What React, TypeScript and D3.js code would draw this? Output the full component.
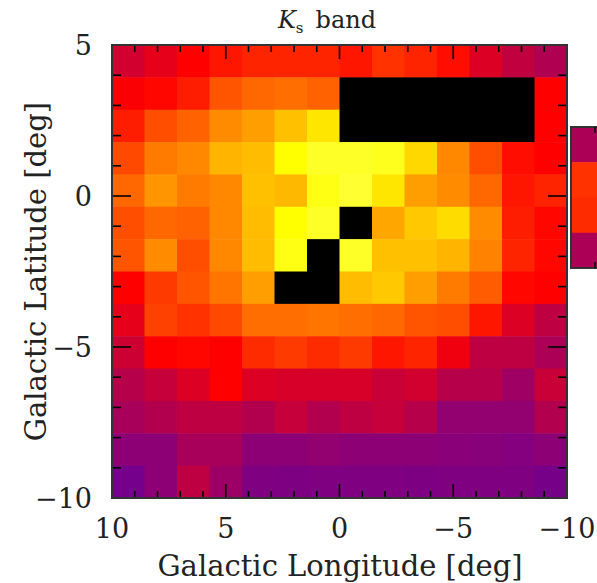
import React from "react";
import * as d3 from "d3";

// Galactic grid: 14 x 14 cells, longitude +10 → −10, latitude +5 → −10
const lonEdges = [10, -10];
const latEdges = [5, -10];
const nCols = 14;
const nRows = 14;

// Relative Ks-band intensity per cell (row 0 = top, col 0 = l = +10); null = masked
const row0 = [36, 40, 45, 48, 50, 50, 50, 48, 52, 50, 47, 38, 32, 27];
const row1 = [44, 46, 49, 57, 60, 61, 59, null, null, null, null, null, null, 45];
const row2 = [49, 56, 59, 66, 70, 78, 87, null, null, null, null, null, null, 45];
const row3 = [55, 63, 65, 75, 77, 92, 96, 96, 95, 84, 65, 56, 47, 45];
const row4 = [60, 68, 63, 65, 78, 76, 94, 97, 87, 70, 66, 60, 48, 50];
const row5 = [56, 60, 59, 65, 77, 92, 96, null, 72, 80, 85, 66, 49, 46];
const row6 = [57, 66, 56, 65, 77, 94, null, 96, 78, 78, 75, 64, 50, 46];
const row7 = [45, 53, 57, 62, 70, null, null, 77, 80, 70, 63, 58, 46, 45];
const row8 = [40, 54, 52, 55, 61, 61, 62, 61, 60, 57, 56, 48, 38, 31];
const row9 = [35, 45, 46, 45, 51, 53, 51, 53, 48, 50, 42, 31, 31, 26];
const row10 = [29, 33, 38, 45, 38, 37, 37, 37, 34, 36, 29, 29, 22, 34];
const row11 = [25, 28, 31, 31, 28, 33, 28, 31, 33, 29, 18, 18, 18, 28];
const row12 = [16, 16, 25, 25, 16, 16, 18, 16, 16, 16, 15, 14, 12, 16];
const row13 = [5, 16, 31, 21, 10, 9, 10, 10, 10, 9, 10, 10, 10, 6];
const grid = [row0, row1, row2, row3, row4, row5, row6, row7, row8, row9, row10, row11, row12, row13];

// Colour bar segments (top → bottom)
const barValues = [26, 52, 51, 26];

// Colour table stops
const stopValues = [0, 15, 25, 35, 45, 55, 65, 75, 85, 92, 100];
const stopColors = ["#6a0094", "#8a0078", "#a8005a", "#cc0033", "#ff0000", "#ff4800", "#ff8800", "#ffb400", "#ffdc00", "#ffff00", "#ffff50"];

const xTicks = [10, 5, 0, -5, -10];
const yTicks = [5, 0, -5, -10];

const W = 597;
const H = 583;
const M = { left: 112, right: 567, top: 45, bottom: 498 };

const fmt = (v: number) => (v < 0 ? "\u2212" + Math.abs(v) : String(v));

export default function App() {
  const x = d3.scaleLinear().domain(lonEdges).range([M.left, M.right]);
  const y = d3.scaleLinear().domain(latEdges).range([M.top, M.bottom]);
  const color = d3
    .scaleLinear<string>()
    .domain(stopValues)
    .range(stopColors)
    .interpolate(d3.interpolateRgb)
    .clamp(true);

  const dLon = (lonEdges[1] - lonEdges[0]) / nCols;
  const dLat = (latEdges[1] - latEdges[0]) / nRows;

  const cells: React.ReactNode[] = [];
  grid.forEach((row, r) => {
    row.forEach((v, c) => {
      const x0 = x(lonEdges[0] + c * dLon);
      const x1 = x(lonEdges[0] + (c + 1) * dLon);
      const y0 = y(latEdges[0] + r * dLat);
      const y1 = y(latEdges[0] + (r + 1) * dLat);
      cells.push(
        <rect
          key={`${r}-${c}`}
          x={x0}
          y={y0}
          width={x1 - x0 + 0.5}
          height={y1 - y0 + 0.5}
          fill={v === null ? "#000" : color(v)}
        />
      );
    });
  });

  const serif = "'DejaVu Serif', serif";
  const ticks: React.ReactNode[] = [];
  for (let l = -10; l <= 10; l++) {
    const len = l % 5 === 0 ? 14 : 7;
    const px = x(l);
    ticks.push(<line key={`xb${l}`} x1={px} x2={px} y1={M.bottom} y2={M.bottom - len} stroke="#000" strokeWidth={1.6} />);
    ticks.push(<line key={`xt${l}`} x1={px} x2={px} y1={M.top} y2={M.top + len} stroke="#000" strokeWidth={1.6} />);
  }
  for (let b = -10; b <= 5; b++) {
    const len = b % 5 === 0 ? 19 : 9;
    const py = y(b);
    ticks.push(<line key={`yl${b}`} x1={M.left} x2={M.left + len} y1={py} y2={py} stroke="#000" strokeWidth={1.6} />);
    ticks.push(<line key={`yr${b}`} x1={M.right} x2={M.right - len} y1={py} y2={py} stroke="#000" strokeWidth={1.6} />);
  }

  const barTop = 127;
  const barBottom = 268;
  const barX = 571;
  const segH = (barBottom - barTop) / barValues.length;
  const fs = 29;
  const tickFs = 27;

  return (
    <svg
      width={W}
      height={H}
      style={{ position: "absolute", left: 0, top: 0, background: "#fff" }}
      fontFamily={serif}
    >
      {cells}
      {ticks}
      <rect
        x={M.left}
        y={M.top}
        width={M.right - M.left}
        height={M.bottom - M.top}
        fill="none"
        stroke="#333"
        strokeWidth={2}
      />

      {/* colour bar */}
      {barValues.map((v, i) => (
        <rect key={`cb${i}`} x={barX} y={barTop + i * segH} width={40} height={segH + 0.5} fill={color(v)} />
      ))}
      <rect x={barX} y={barTop} width={40} height={barBottom - barTop} fill="none" stroke="#333" strokeWidth={2} />
      <line x1={595} x2={595} y1={barTop} y2={barTop + 6} stroke="#000" strokeWidth={1.5} />
      <line x1={595} x2={595} y1={barBottom} y2={barBottom - 6} stroke="#000" strokeWidth={1.5} />

      {/* tick labels */}
      {xTicks.map((t) => (
        <text key={`xl${t}`} x={x(t)} y={538} textAnchor="middle" fontSize={tickFs} fill="#222">
          {fmt(t)}
        </text>
      ))}
      {yTicks.map((t) => (
        <text key={`yl${t}`} x={92} y={y(t) + 10} textAnchor="end" fontSize={tickFs} fill="#222">
          {fmt(t)}
        </text>
      ))}

      {/* axis titles */}
      <text x={340} y={576} textAnchor="middle" fontSize={fs} fill="#222">
        Galactic Longitude [deg]
      </text>
      <text
        transform={`translate(46, ${y(-2.5)}) rotate(-90)`}
        textAnchor="middle"
        fontSize={fs}
        fill="#222"
      >
        Galactic Latitude [deg]
      </text>

      {/* title */}
      <text x={327} y={28} textAnchor="middle" fontSize={24} fill="#222">
        <tspan fontStyle="italic">K</tspan>
        <tspan fontSize={15} dy={5}>s</tspan>
        <tspan dy={-5}>{"\u2002band"}</tspan>
      </text>
    </svg>
  );
}
